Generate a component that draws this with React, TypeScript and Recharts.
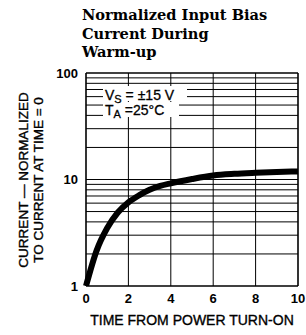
import { Line, LineChart, ReferenceLine, XAxis, YAxis } from 'recharts';

// time after power on (minutes) and normalized bias current
const time = [0, 0.5, 1, 1.5, 2, 2.5, 3, 3.5, 4, 5, 6, 7, 8, 9, 10];
const current = [1, 2.15, 3.5, 4.9, 6.1, 7.1, 8.0, 8.7, 9.2, 10.1, 10.9, 11.3, 11.55, 11.75, 11.9];

const xTicks = [0, 2, 4, 6, 8, 10];
const yTicks = [1, 10, 100];
const minorY = [2, 3, 4, 5, 6, 7, 8, 9, 20, 30, 40, 50, 60, 70, 80, 90];

const titleLines = ['Normalized Input Bias', 'Current During', 'Warm-up'];
const yLabelLines = ['CURRENT \u2014 NORMALIZED', 'TO CURRENT  AT TIME = 0'];
const xLabel = 'TIME FROM POWER TURN-ON';

const data = time.map((t, i) => ({ t, v: current[i] }));

const sans = 'Liberation Sans, Arial, sans-serif';

const App = () => {
    return (
        <div style={{ position: 'absolute', left: 0, top: 0, width: 306, height: 335, background: '#fff' }}>
            <LineChart width={306} height={335} data={data} margin={{ top: 73, right: 8, left: 56, bottom: 29 }}>
                <XAxis dataKey="t" type="number" domain={[0, 10]} ticks={xTicks} axisLine={false} tickLine={false}
                    height={20} tick={{ fill: '#000', fontSize: 13, fontWeight: 'bold', fontFamily: sans }} />
                <YAxis type="number" scale="log" domain={[1, 100]} ticks={yTicks} axisLine={false} tickLine={false}
                    width={30} allowDataOverflow tick={{ fill: '#000', fontSize: 13, fontWeight: 'bold', fontFamily: sans }} />
                {minorY.map(v => (
                    <ReferenceLine key={'m' + v} y={v} stroke="#000" strokeWidth={1} />
                ))}
                {xTicks.map(v => (
                    <ReferenceLine key={'x' + v} x={v} stroke="#000" strokeWidth={v === 0 || v === 10 ? 1.6 : 1} />
                ))}
                {yTicks.map(v => (
                    <ReferenceLine key={'y' + v} y={v} stroke="#000" strokeWidth={v === 10 ? 1 : 1.6} />
                ))}
                <Line type="monotone" dataKey="v" stroke="#000" strokeWidth={6} dot={false} isAnimationActive={false} />
            </LineChart>
            <svg width={306} height={335} style={{ position: 'absolute', left: 0, top: 0, pointerEvents: 'none' }}>
                {titleLines.map((s, i) => (
                    <text key={s} x={82} y={20 + i * 18.5} fontFamily="DejaVu Serif, serif" fontWeight="bold" fontSize={14.6}>{s}</text>
                ))}
                {yLabelLines.map((s, i) => (
                    <text key={s} transform={`translate(${27.5 + i * 15},180) rotate(-90)`} textAnchor="middle"
                        fontFamily={sans} fontSize={13.5} stroke="#000" strokeWidth={0.35}>{s}</text>
                ))}
                <text x={192} y={325} textAnchor="middle" fontFamily={sans} fontSize={14}
                    stroke="#000" strokeWidth={0.35}>{xLabel}</text>
                <rect x={103} y={86} width={84} height={15} fill="#fff" />
                <rect x={103} y={102} width={76} height={15} fill="#fff" />
                <text x={105} y={99.5} fontFamily={sans} fontSize={14} stroke="#000" strokeWidth={0.3}>
                    V<tspan fontSize={11} dy={3}>S</tspan><tspan dy={-3}> =  {'\u00B1'}15 V</tspan>
                </text>
                <text x={105} y={115} fontFamily={sans} fontSize={14} stroke="#000" strokeWidth={0.3}>
                    T<tspan fontSize={11} dy={3}>A</tspan><tspan dy={-3}> =25{'\u00B0'}C</tspan>
                </text>
            </svg>
        </div>
    );
};

export default App;
